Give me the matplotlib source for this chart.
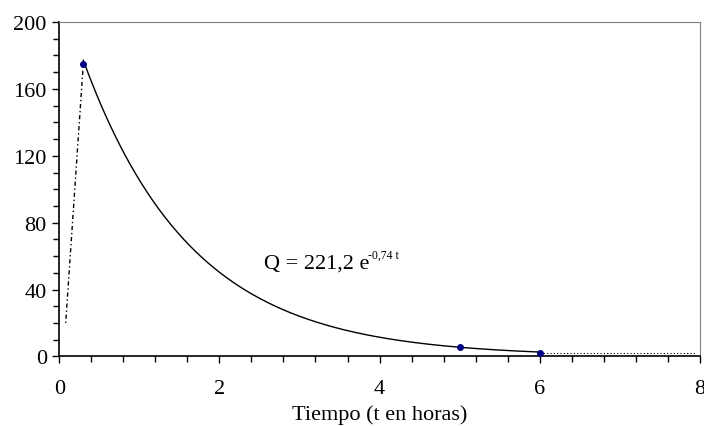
import numpy as np
import matplotlib.pyplot as plt
from matplotlib.ticker import MultipleLocator

plt.rcParams['font.family'] = ['Liberation Serif', 'DejaVu Serif']

# datos medidos
t_obs = [0.3, 5.0, 6.0]
q_obs = [175.0, 5.5, 2.0]

# subida inicial (tramo punteado)
t_sub = [0.08, 0.3]
q_sub = [20.0, 175.0]

# cola punteada despues de t = 6
t_cola = [6.0, 7.95]
q_cola = [2.0, 2.0]

# ajuste Q = A e^(-k t)
A = 221.2
k = 0.74
t_ini, t_fin = 0.3, 6.0

fig = plt.figure(figsize=(7.04, 4.27), dpi=100)
ax = fig.add_axes([0.0842, 0.163, 0.9098, 0.783])

t_fit = np.linspace(t_ini, t_fin, 300)
ax.plot(t_fit, A * np.exp(-k * t_fit), color='black', lw=1.0)
ax.plot(t_sub, q_sub, color='black', lw=1.0, ls=(0, (1, 2, 3, 2)))
ax.plot(t_cola, q_cola, color='black', lw=0.8, ls=(0, (1, 2)))
ax.plot(t_obs, q_obs, 'o', color='#000080', ms=4, zorder=5)

# ecuacion del ajuste
ax.text(2.56, 56, 'Q = 221,2 e', fontsize=16, ha='left', va='center')
ax.text(3.86, 61, '-0,74 t', fontsize=8.5, ha='left', va='center')

ax.set_xlim(0, 8)
ax.set_ylim(0, 200)
ax.xaxis.set_major_locator(MultipleLocator(2))
ax.xaxis.set_minor_locator(MultipleLocator(0.4))
ax.yaxis.set_major_locator(MultipleLocator(40))
ax.yaxis.set_minor_locator(MultipleLocator(10))
ax.tick_params(which='both', direction='out', labelsize=16, width=1)
ax.tick_params(which='major', length=5)
ax.tick_params(which='minor', length=4)
ax.tick_params(axis='x', pad=11)
ax.tick_params(axis='y', pad=4)
ax.set_xlabel('Tiempo (t en horas)', fontsize=16, labelpad=5)

for s in ['top', 'right']:
    ax.spines[s].set_color('#808080')
for s in ['left', 'bottom']:
    ax.spines[s].set_linewidth(1.2)

fig.savefig('out.png', dpi=100)
